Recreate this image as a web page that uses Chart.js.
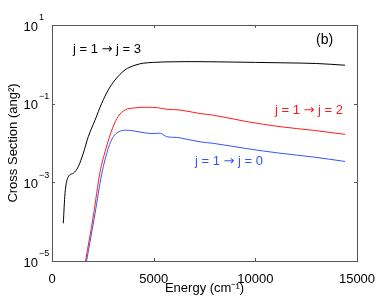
<!DOCTYPE html>
<html>
<head>
<meta charset="utf-8">
<script src="https://cdn.jsdelivr.net/npm/chart.js@4/dist/chart.umd.min.js"></script>
<style>
  body { margin: 0; background: #fff; }
</style>
</head>
<body>
<canvas id="chart1" width="382" height="299"></canvas>
<script>
const FONT = "'Liberation Sans', Arial, sans-serif";
const ARROW_FONT = "'DejaVu Sans', sans-serif";

// j = 1 -> j = 3 (black)
const energy13 = [556, 639, 802, 1048, 1293, 1539, 1785, 2115, 2444, 2769, 3098, 3590, 4082, 4500, 5000, 5500, 6500, 7279, 8500, 10000, 11500, 13000, 14410];
const sigma13 = [9.1e-5, 5.2e-4, 1.38e-3, 1.7e-3, 2.5e-3, 5.5e-3, 0.0145, 0.038, 0.102, 0.224, 0.40, 0.72, 0.95, 1.07, 1.12, 1.15, 1.17, 1.17, 1.15, 1.12, 1.09, 1.05, 0.95];

// j = 1 -> j = 2 (red)
const energy12 = [1650, 2033, 2361, 2650, 2980, 3262, 3590, 4082, 4657, 5200, 5641, 6295, 7279, 7935, 9574, 11213, 12852, 14410];
const sigma12 = [1e-5, 1.4e-4, 1.8e-3, 7.1e-3, 0.024, 0.048, 0.069, 0.078, 0.081, 0.079, 0.072, 0.069, 0.056, 0.051, 0.035, 0.026, 0.021, 0.0166];

// j = 1 -> j = 0 (blue)
const energy10 = [1700, 2115, 2443, 2771, 3017, 3262, 3650, 4000, 4657, 5000, 5313, 5500, 5641, 6132, 6295, 7279, 7935, 9574, 11213, 12852, 14410];
const sigma10 = [1e-5, 1.6e-4, 1.6e-3, 7.4e-3, 0.0145, 0.019, 0.0212, 0.0203, 0.0178, 0.0174, 0.0178, 0.0158, 0.0145, 0.0138, 0.0135, 0.0107, 0.0098, 0.0072, 0.0055, 0.0044, 0.0034];

const xTicks = [0, 5000, 10000, 15000];
const yTickExponents = [1, -1, -3, -5];

// in-plot text labels, anchored in data coordinates
const labels = [
  { text: 'j = 1 \u2192 j = 3', x: 1033, y: 2.45, color: '#000', size: 13 },
  { text: 'j = 1 \u2192 j = 2', x: 10970, y: 0.069, color: '#ff1a1a', size: 13 },
  { text: 'j = 1 \u2192 j = 0', x: 7034, y: 0.0035, color: '#3355ff', size: 13 },
  { text: '(b)', x: 12985, y: 4.2, color: '#000', size: 14 }
];

function toPoints(xs, ys) {
  return xs.map((x, i) => ({ x: x, y: ys[i] }));
}

// draws text, using a wider font for the arrow glyph
function drawLabel(c, text, x, y, size) {
  const parts = text.split('\u2192');
  parts.forEach((p, i) => {
    c.font = size + 'px ' + FONT;
    c.fillText(p, x, y);
    x += c.measureText(p).width;
    if (i < parts.length - 1) {
      c.font = size + 'px ' + ARROW_FONT;
      c.fillText('\u2192', x, y + 1);
      x += c.measureText('\u2192').width;
    }
  });
}

const framePlugin = {
  id: 'frame',
  afterDraw(chart) {
    const c = chart.ctx;
    const a = chart.chartArea;
    const xs = chart.scales.x;
    const ys = chart.scales.y;
    c.save();
    c.strokeStyle = '#555';
    c.lineWidth = 1;
    c.strokeRect(Math.round(a.left) + 0.5, Math.round(a.top) + 0.5, Math.round(a.right - a.left), Math.round(a.bottom - a.top));
    c.beginPath();
    xTicks.forEach(v => {
      const px = Math.round(xs.getPixelForValue(v)) + 0.5;
      c.moveTo(px, a.bottom); c.lineTo(px, a.bottom - 3);
      c.moveTo(px, a.top); c.lineTo(px, a.top + 3);
    });
    yTickExponents.forEach(e => {
      const py = Math.round(ys.getPixelForValue(Math.pow(10, e))) + 0.5;
      c.moveTo(a.left, py); c.lineTo(a.left + 3, py);
      c.moveTo(a.right, py); c.lineTo(a.right - 3, py);
    });
    c.stroke();

    // y tick labels: 10 with superscript exponent
    c.fillStyle = '#000';
    c.textBaseline = 'middle';
    yTickExponents.forEach(e => {
      const py = ys.getPixelForValue(Math.pow(10, e));
      c.font = '13px ' + FONT;
      c.textAlign = 'right';
      c.fillText('10', a.left - 14, py + 2);
      c.font = '9px ' + FONT;
      c.textAlign = 'left';
      c.fillText(e < 0 ? '\u2212' + (-e) : String(e), a.left - 13, py - 7);
    });

    // annotations
    c.textBaseline = 'middle';
    c.textAlign = 'left';
    labels.forEach(l => {
      c.fillStyle = l.color;
      drawLabel(c, l.text, xs.getPixelForValue(l.x), ys.getPixelForValue(l.y), l.size);
    });
    c.restore();
  }
};

const ctx = document.getElementById('chart1');

new Chart(ctx, {
  type: 'line',
  data: {
    datasets: [{
      data: toPoints(energy13, sigma13),
      borderColor: '#000',
      borderWidth: 1,
      pointRadius: 0,
      cubicInterpolationMode: 'monotone'
    }, {
      data: toPoints(energy12, sigma12),
      borderColor: '#ff1a1a',
      borderWidth: 1,
      pointRadius: 0,
      cubicInterpolationMode: 'monotone'
    }, {
      data: toPoints(energy10, sigma10),
      borderColor: '#3355ff',
      borderWidth: 1,
      pointRadius: 0,
      cubicInterpolationMode: 'monotone'
    }]
  },
  options: {
    responsive: false,
    animation: false,
    layout: { padding: { left: 0, right: 25, top: 25, bottom: 0 } },
    plugins: {
      legend: { display: false },
      tooltip: { enabled: false }
    },
    scales: {
      x: {
        type: 'linear',
        min: 0,
        max: 15000,
        afterBuildTicks: s => { s.ticks = xTicks.map(v => ({ value: v })); },
        ticks: { color: '#000', font: { family: FONT, size: 13 }, padding: 3, maxRotation: 0, callback: v => String(v) },
        grid: { display: false },
        border: { display: false },
        title: { display: true, text: 'Energy (cm\u207B\u00B9)', color: '#000', font: { family: FONT, size: 13 }, padding: { top: 0, bottom: 3 } },
        afterFit: s => { s.height = 38; }
      },
      y: {
        type: 'logarithmic',
        min: 1e-5,
        max: 10,
        ticks: { display: false },
        grid: { display: false },
        border: { display: false },
        title: { display: true, text: 'Cross Section (ang\u00B2)', color: '#000', font: { family: FONT, size: 13 }, padding: { top: 6, bottom: 0 } },
        afterFit: s => { s.width = 52; }
      }
    }
  },
  plugins: [framePlugin]
});
</script>
</body>
</html>
